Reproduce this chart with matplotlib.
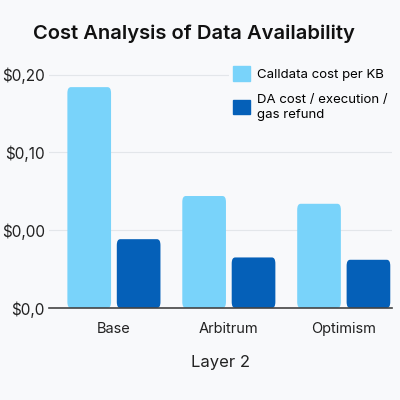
import matplotlib
matplotlib.use("Agg")
import numpy as np
import matplotlib.pyplot as plt
from matplotlib.patches import FancyBboxPatch, Patch

# data (in axis units: tick positions 0..3 carry the labels below)
layers = ["Base", "Arbitrum", "Optimism"]
calldata = [2.84, 1.44, 1.34]
da_cost = [0.885, 0.65, 0.62]
ytick_labels = ["$0,0", "$0,00", "$0,10", "$0,20"]
series_names = ["Calldata cost per KB", "DA cost / execution /\ngas refund"]

BG = "#F8F9FB"
LIGHT = "#79D3FA"
DARK = "#0560B8"

plt.rcParams["font.family"] = ["Inter", "DejaVu Sans"]

fig = plt.figure(figsize=(4, 4), dpi=100, facecolor=BG)
ax = fig.add_axes([0.1225, 0.23, 0.8575, 0.593])
ax.set_facecolor(BG)

x = np.arange(len(layers))
w = 0.38
off = 0.215
b1 = ax.bar(x - off, calldata, w, color=LIGHT, zorder=3)
b2 = ax.bar(x + off, da_cost, w, color=DARK, zorder=3)

# round the top corners a little
for bars in (b1, b2):
    for r in bars:
        r.set_visible(False)
        p = FancyBboxPatch((r.get_x(), r.get_y()), r.get_width(), r.get_height(),
                           boxstyle="round,pad=0,rounding_size=0.03",
                           mutation_aspect=2.6,
                           facecolor=r.get_facecolor(), edgecolor="none", zorder=3)
        ax.add_patch(p)

ax.set_xlim(-0.565, 2.42)
ax.set_ylim(0, 3.05)
ax.set_yticks(range(len(ytick_labels)))
ax.set_yticklabels(ytick_labels, fontsize=11, color="#222222")
ax.set_xticks(x)
ax.set_xticklabels(layers, fontsize=10.5, color="#222222")
ax.tick_params(length=0)
ax.tick_params(axis="x", pad=10)
ax.tick_params(axis="y", pad=3)
ax.grid(axis="y", color="#E3E6EA", linewidth=0.8, zorder=0)
for s in ("top", "right", "left"):
    ax.spines[s].set_visible(False)
ax.spines["bottom"].set_color("#444444")
ax.spines["bottom"].set_linewidth(1.2)
ax.spines["bottom"].set_zorder(4)

ax.set_xlabel("Layer 2", fontsize=12, color="#222222", labelpad=14)
fig.text(0.485, 0.915, "Cost Analysis of Data Availability", ha="center", va="center",
         fontsize=14.5, fontweight="semibold", color="#111111")

handles = [Patch(color=LIGHT), Patch(color=DARK)]
leg = ax.legend(handles, series_names, loc="upper left", bbox_to_anchor=(0.525, 1.035),
                frameon=True, facecolor=BG, edgecolor="none", framealpha=1,
                fontsize=9.5, handlelength=1.25, handleheight=1.3, handletextpad=0.6,
                labelspacing=0.95, borderpad=0.3, borderaxespad=0)
for t in leg.get_texts():
    t.set_linespacing(1.35)
leg.set_zorder(5)

fig.savefig("out.png", dpi=100, facecolor=BG)
